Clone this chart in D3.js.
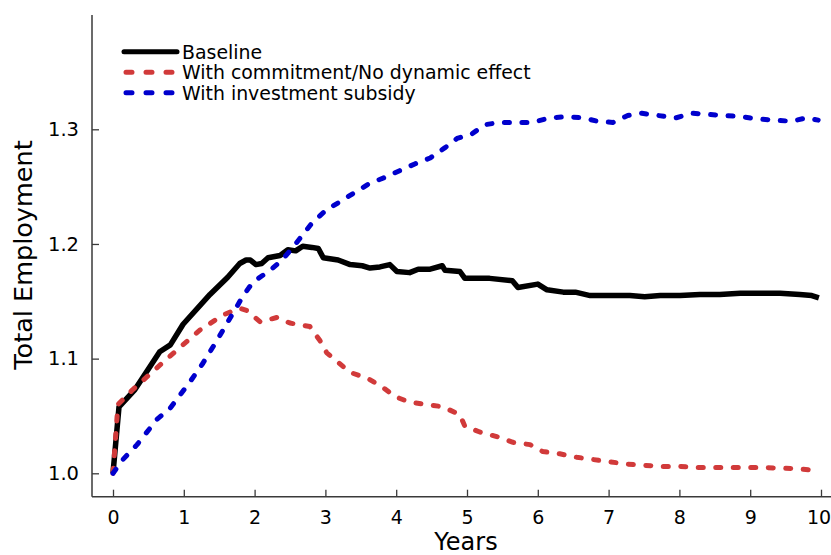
<!DOCTYPE html>
<html>
<head>
<meta charset="utf-8">
<script src="https://cdn.jsdelivr.net/npm/d3@7"></script>
<style>
  body { margin: 0; background: #fff; }
  svg { display: block; font-family: "DejaVu Sans", sans-serif; }
</style>
</head>
<body>
<svg id="chart" width="831" height="555"></svg>
<script>
// values
const baseYears = [0, 0.085, 0.31, 0.66, 0.81, 0.99, 1.37, 1.62, 1.79, 1.88, 1.94, 2.02, 2.10, 2.19, 2.36, 2.47, 2.58, 2.68, 2.81, 2.90, 2.97, 3.18, 3.35, 3.52, 3.63, 3.77, 3.91, 4.01, 4.19, 4.31, 4.48, 4.65, 4.69, 4.90, 4.97, 5.32, 5.64, 5.72, 6.00, 6.13, 6.36, 6.53, 6.74, 7.02, 7.30, 7.51, 7.73, 8.01, 8.29, 8.57, 8.86, 9.14, 9.42, 9.70, 9.87, 9.97];
const baseline = [1.000, 1.058, 1.073, 1.106, 1.112, 1.130, 1.156, 1.171, 1.183, 1.186, 1.186, 1.182, 1.183, 1.188, 1.190, 1.195, 1.194, 1.198, 1.197, 1.196, 1.188, 1.186, 1.182, 1.181, 1.179, 1.180, 1.182, 1.176, 1.175, 1.178, 1.178, 1.181, 1.177, 1.176, 1.170, 1.170, 1.168, 1.162, 1.165, 1.160, 1.158, 1.158, 1.155, 1.155, 1.155, 1.154, 1.155, 1.155, 1.156, 1.156, 1.157, 1.157, 1.157, 1.156, 1.155, 1.153];

const commitYears = [0, 0.07, 0.28, 0.62, 0.95, 1.23, 1.55, 1.79, 1.89, 2.08, 2.32, 2.50, 2.78, 2.92, 3.02, 3.35, 3.59, 3.81, 3.98, 4.19, 4.43, 4.66, 4.90, 4.97, 5.18, 5.42, 5.65, 5.89, 6.07, 6.31, 6.55, 6.78, 7.02, 7.26, 7.49, 7.77, 8.01, 8.25, 8.71, 9.18, 9.66, 9.84, 9.97];
const commitment = [1.000, 1.060, 1.073, 1.092, 1.110, 1.125, 1.138, 1.144, 1.142, 1.132, 1.136, 1.131, 1.128, 1.116, 1.105, 1.088, 1.083, 1.075, 1.067, 1.062, 1.060, 1.058, 1.051, 1.041, 1.036, 1.032, 1.027, 1.025, 1.019, 1.017, 1.014, 1.012, 1.010, 1.008, 1.007, 1.006, 1.006, 1.005, 1.005, 1.005, 1.004, 1.003, 0.999];

const subsidyYears = [0, 0.14, 0.34, 0.62, 0.81, 1.09, 1.27, 1.47, 1.65, 1.84, 1.98, 2.22, 2.39, 2.54, 2.68, 2.82, 3.02, 3.21, 3.39, 3.63, 3.84, 4.05, 4.27, 4.48, 4.69, 4.86, 5.07, 5.25, 5.47, 5.71, 5.93, 6.17, 6.41, 6.64, 6.84, 7.06, 7.27, 7.47, 7.70, 7.95, 8.18, 8.40, 8.64, 8.88, 9.11, 9.34, 9.58, 9.80, 9.96];
const subsidy = [1.000, 1.012, 1.025, 1.047, 1.057, 1.080, 1.096, 1.116, 1.135, 1.155, 1.167, 1.177, 1.186, 1.197, 1.208, 1.219, 1.230, 1.237, 1.244, 1.253, 1.258, 1.264, 1.270, 1.275, 1.284, 1.292, 1.296, 1.304, 1.306, 1.306, 1.306, 1.310, 1.311, 1.310, 1.307, 1.306, 1.312, 1.314, 1.312, 1.310, 1.314, 1.313, 1.312, 1.311, 1.309, 1.308, 1.307, 1.310, 1.308];

const seriesNames = ["Baseline", "With commitment/No dynamic effect", "With investment subsidy"];
const seriesColors = ["#000000", "#d13a3a", "#0000cd"];
const xTicks = [0, 1, 2, 3, 4, 5, 6, 7, 8, 9, 10];
const yTicks = [1.0, 1.1, 1.2, 1.3];

const svg = d3.select("#chart");

const x = d3.scaleLinear().domain([0, 10]).range([113, 821]);
const y = d3.scaleLinear().domain([1.0, 1.3]).range([473.3, 129.3]);

const series = [
    {name: seriesNames[0], color: seriesColors[0], dash: null,
     pts: baseYears.map((t, i) => [t, baseline[i]])},
    {name: seriesNames[1], color: seriesColors[1], dash: "5,12.5",
     pts: commitYears.map((t, i) => [t, commitment[i]])},
    {name: seriesNames[2], color: seriesColors[2], dash: "5,12.5",
     pts: subsidyYears.map((t, i) => [t, subsidy[i]])}
];

// axes
const axisColor = "#3a3a3a";
const xAxis = svg.append("g")
    .attr("transform", "translate(0,496.7)")
    .call(d3.axisBottom(x).tickValues(xTicks).tickFormat(d3.format("d"))
        .tickSizeInner(-7).tickSizeOuter(0).tickPadding(14));
xAxis.select(".domain").remove();
xAxis.selectAll("line").attr("stroke", axisColor).attr("stroke-width", 1.3);
xAxis.selectAll("text").attr("font-size", 19).attr("fill", "#000")
    .attr("font-family", "DejaVu Sans");
// last label sits right at the window edge
xAxis.selectAll("text").filter(d => d === 10).attr("dx", -2.5);

const yAxis = svg.append("g")
    .attr("transform", "translate(92,0)")
    .call(d3.axisLeft(y).tickValues(yTicks).tickFormat(d3.format(".1f"))
        .tickSizeInner(-7).tickSizeOuter(0).tickPadding(13));
yAxis.select(".domain").remove();
yAxis.selectAll("line").attr("stroke", axisColor).attr("stroke-width", 1.3);
yAxis.selectAll("text").attr("font-size", 19.5).attr("fill", "#000")
    .attr("font-family", "DejaVu Sans");

// spines
svg.append("line")
    .attr("x1", 92).attr("x2", 92).attr("y1", 15).attr("y2", 496.7)
    .attr("stroke", axisColor).attr("stroke-width", 1.5);
svg.append("line")
    .attr("x1", 92).attr("x2", 831).attr("y1", 496.7).attr("y2", 496.7)
    .attr("stroke", axisColor).attr("stroke-width", 1.5);

// lines
const line = d3.line().x(d => x(d[0])).y(d => y(d[1]));
svg.append("g").selectAll("path")
    .data(series)
    .enter()
    .append("path")
    .attr("d", d => line(d.pts))
    .attr("fill", "none")
    .attr("stroke", d => d.color)
    .attr("stroke-width", d => d.dash ? 5 : 5.5)
    .attr("stroke-dasharray", d => d.dash)
    .style("stroke-linecap", d => d.dash ? "round" : "butt")
    .style("stroke-linejoin", "round");

// legend
const legend = svg.append("g");
const rows = legend.selectAll("g")
    .data(series)
    .enter()
    .append("g")
    .attr("transform", (d, i) => `translate(0,${51.7 + i * 20.5})`);
rows.append("line")
    .attr("x1", d => d.dash ? 126 : 124).attr("x2", 177)
    .attr("stroke", d => d.color)
    .attr("stroke-width", 5)
    .attr("stroke-dasharray", d => d.dash ? "6,14" : null)
    .style("stroke-linecap", "round");
rows.append("text")
    .attr("x", 182)
    .attr("y", 7)
    .attr("font-size", 18.9)
    .text(d => d.name);

// axis labels
svg.append("text")
    .attr("x", 466).attr("y", 550)
    .attr("text-anchor", "middle")
    .attr("font-size", 24)
    .text("Years");
svg.append("text")
    .attr("transform", "translate(32,255) rotate(-90)")
    .attr("text-anchor", "middle")
    .attr("font-size", 25.5)
    .text("Total Employment");
</script>
</body>
</html>
